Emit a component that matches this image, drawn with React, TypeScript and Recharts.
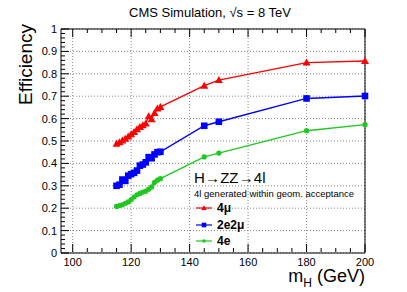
import React from "react";
import {
  LineChart,
  Line,
  XAxis,
  YAxis,
  CartesianGrid,
  Legend,
} from "recharts";

const masses = [
  115, 116, 117, 118, 119, 120, 121, 122, 123, 124, 125, 126, 127, 128, 129,
  130, 145, 150, 180, 200,
];
const eff4mu = [
  0.488, 0.494, 0.502, 0.51, 0.52, 0.53, 0.54, 0.552, 0.562, 0.57, 0.578,
  0.61, 0.597, 0.625, 0.645, 0.652, 0.747, 0.772, 0.85, 0.857,
];
const eff2e2mu = [
  0.3, 0.305, 0.328, 0.322, 0.345, 0.352, 0.358, 0.368, 0.39, 0.395, 0.405,
  0.428, 0.423, 0.44, 0.45, 0.452, 0.568, 0.586, 0.69, 0.701,
];
const eff4e = [
  0.208, 0.212, 0.215, 0.222, 0.228, 0.238, 0.25, 0.26, 0.266, 0.272, 0.276,
  0.285, 0.295, 0.315, 0.325, 0.332, 0.429, 0.446, 0.546, 0.573,
];

const xMajor = [100, 120, 140, 160, 180, 200];
const xTicks = Array.from({ length: 21 }, (_, i) => 100 + i * 5);
const yMajor = Array.from({ length: 11 }, (_, i) => +(i * 0.1).toFixed(1));
const yTicks = Array.from({ length: 51 }, (_, i) => +(i * 0.02).toFixed(2));

const series = [
  { key: "mu4", label: "4μ", color: "#ff0000", marker: "triangle" },
  { key: "e2mu2", label: "2e2μ", color: "#0000ff", marker: "square" },
  { key: "e4", label: "4e", color: "#1ec81e", marker: "circle" },
];

const data = masses.map((m, i) => ({
  m,
  mu4: eff4mu[i],
  e2mu2: eff2e2mu[i],
  e4: eff4e[i],
}));

const FONT = "'Liberation Sans', Arial, Helvetica, sans-serif";
const MAJ = 8;
const MIN = 4;

const isXMajor = (v: number) => xMajor.includes(v);
const isYMajor = (v: number) => Math.abs(v * 10 - Math.round(v * 10)) < 1e-6;

function Marker({ cx, cy, kind, color, s = 1 }: any) {
  if (cx == null || cy == null) return null;
  if (kind === "triangle") {
    const r = 4 * s;
    return (
      <polygon
        points={`${cx},${cy - r} ${cx - r},${cy + r * 0.75} ${cx + r},${cy + r * 0.75}`}
        fill={color}
      />
    );
  }
  if (kind === "square") {
    const r = 3.3 * s;
    return <rect x={cx - r} y={cy - r} width={2 * r} height={2 * r} fill={color} />;
  }
  return <circle cx={cx} cy={cy} r={2.6 * s} fill={color} />;
}

// ticks point into the frame, ROOT style
function BottomTick({ x, y, payload }: any) {
  const v = payload.value;
  const y0 = y - 1;
  const len = isXMajor(v) ? MAJ : MIN;
  return (
    <g>
      <line x1={x} y1={y0} x2={x} y2={y0 - len} stroke="#000" />
      {isXMajor(v) && (
        <text x={x} y={y0 + 14} textAnchor="middle" fontSize={11} fontFamily={FONT} fill="#000">
          {v}
        </text>
      )}
    </g>
  );
}

function TopTick({ x, y, payload }: any) {
  const len = isXMajor(payload.value) ? MAJ : MIN;
  return <line x1={x} y1={y} x2={x} y2={y + len} stroke="#000" />;
}

function LeftTick({ x, y, payload }: any) {
  const v = payload.value;
  const len = isYMajor(v) ? MAJ : MIN;
  return (
    <g>
      <line x1={x} y1={y} x2={x + len} y2={y} stroke="#000" />
      {isYMajor(v) && (
        <text x={x - 4} y={y + 4} textAnchor="end" fontSize={11} fontFamily={FONT} fill="#000">
          {String(+v.toFixed(1))}
        </text>
      )}
    </g>
  );
}

function RightTick({ x, y, payload }: any) {
  const len = isYMajor(payload.value) ? MAJ : MIN;
  return <line x1={x} y1={y} x2={x - len} y2={y} stroke="#000" />;
}

function LegendBox() {
  return (
    <div style={{ fontFamily: FONT, color: "#000" }}>
      <div style={{ fontSize: 15, lineHeight: "17px", wordSpacing: -4 }}>H → ZZ → 4l</div>
      <div style={{ fontSize: 9.5, lineHeight: "12px", marginTop: 2 }}>
        4l generated within geom. acceptance
      </div>
      {series.map((s) => (
        <div
          key={s.key}
          style={{ display: "flex", alignItems: "center", height: 16.5, marginLeft: 2 }}
        >
          <svg width={16} height={10}>
            <line x1={0} y1={5} x2={16} y2={5} stroke={s.color} strokeOpacity={0.8} strokeWidth={1.5} />
            <Marker cx={8} cy={5} kind={s.marker} color={s.color} s={0.7} />
          </svg>
          <span style={{ fontSize: 12, fontWeight: "bold", marginLeft: 5 }}>{s.label}</span>
        </div>
      ))}
    </div>
  );
}

export default function App() {
  return (
    <div
      style={{
        position: "absolute",
        left: 0,
        top: 0,
        width: 407,
        height: 292,
        background: "#fff",
        fontFamily: FONT,
      }}
    >
      <div
        style={{
          position: "absolute",
          top: 5,
          left: 0,
          width: 420,
          textAlign: "center",
          fontSize: 13,
        }}
      >
        CMS Simulation, √s = 8 TeV
      </div>
      <div
        style={{
          position: "absolute",
          left: 15,
          top: 24,
          fontSize: 19,
          transformOrigin: "left top",
          transform: "rotate(-90deg) translateX(-100%)",
          whiteSpace: "nowrap",
        }}
      >
        Efficiency
      </div>
      <div
        style={{
          position: "absolute",
          right: 42,
          top: 266,
          fontSize: 18,
          whiteSpace: "nowrap",
        }}
      >
        m<sub style={{ fontSize: 12 }}>H</sub> (GeV)
      </div>
      <LineChart
        width={407}
        height={292}
        data={data}
        margin={{ top: 28, right: 41, bottom: 38, left: 60 }}
        style={{ position: "absolute", left: 0, top: 0 }}
      >
        <CartesianGrid
          stroke="#888"
          strokeDasharray="1 2"
          verticalValues={xMajor}
          horizontalValues={yMajor}
        />
        <XAxis
          dataKey="m"
          type="number"
          domain={[96, 200]}
          ticks={xTicks}
          interval={0}
          height={1}
          tickSize={0}
          tickMargin={0}
          tickLine={false}
          tick={BottomTick}
          stroke="#000"
        />
        <XAxis
          xAxisId="top"
          dataKey="m"
          type="number"
          orientation="top"
          domain={[96, 200]}
          ticks={xTicks}
          interval={0}
          height={1}
          tickSize={0}
          tickMargin={0}
          tickLine={false}
          tick={TopTick}
          stroke="#000"
        />
        <YAxis
          type="number"
          domain={[0, 1]}
          ticks={yTicks}
          interval={0}
          width={1}
          tickSize={0}
          tickMargin={0}
          tickLine={false}
          tick={LeftTick}
          stroke="#000"
        />
        <YAxis
          yAxisId="right"
          orientation="right"
          type="number"
          domain={[0, 1]}
          ticks={yTicks}
          interval={0}
          width={1}
          tickSize={0}
          tickMargin={0}
          tickLine={false}
          tick={RightTick}
          stroke="#000"
        />
        {series.map((s) => (
          <Line
            key={s.key}
            type="linear"
            dataKey={s.key}
            stroke={s.color}
            strokeWidth={1.4}
            isAnimationActive={false}
            dot={(p: any) => (
              <Marker key={`${s.key}-${p.index}`} cx={p.cx} cy={p.cy} kind={s.marker} color={s.color} />
            )}
            activeDot={false}
          />
        ))}
        <Legend
          layout="vertical"
          align="center"
          verticalAlign="middle"
          content={() => <LegendBox />}
          wrapperStyle={{ left: 194, top: 169, width: 175, height: 90 }}
        />
      </LineChart>
    </div>
  );
}
